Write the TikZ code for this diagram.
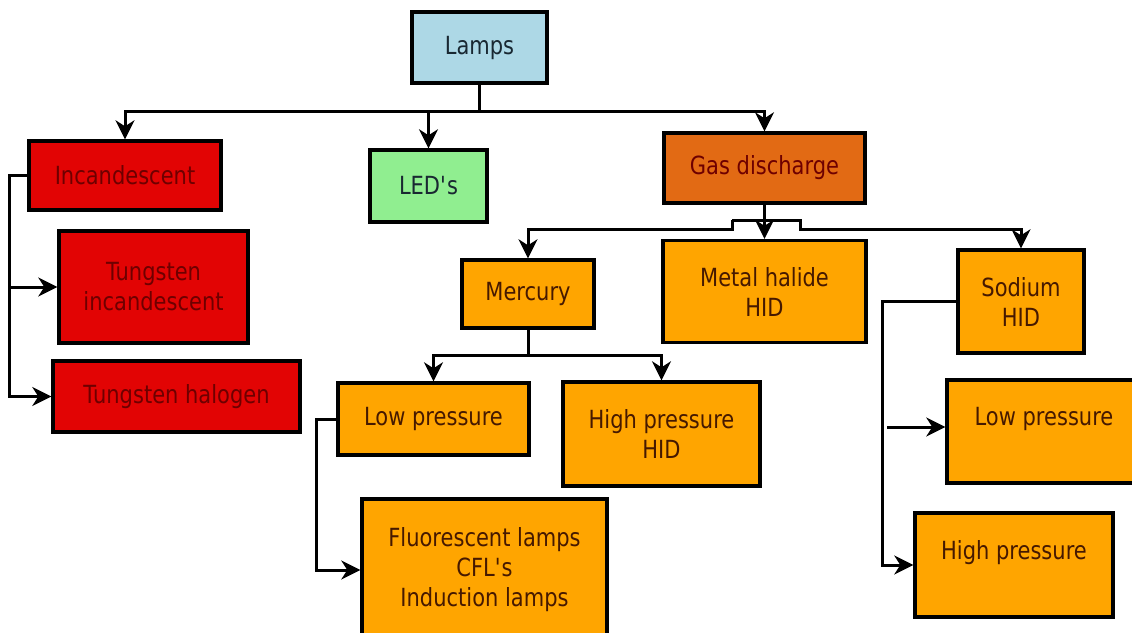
\documentclass[tikz,border=0pt]{standalone}
\usepackage{fontspec}
\setmainfont{DejaVu Sans}[FakeStretch=0.84]
\usepackage{tikz}
\usetikzlibrary{positioning,arrows.meta}
\definecolor{lampblue}{RGB}{173,216,230}
\definecolor{incred}{RGB}{226,4,4}
\definecolor{ledgreen}{RGB}{144,238,144}
\definecolor{gasorange}{RGB}{226,106,20}
\definecolor{hidorange}{RGB}{255,165,0}
\definecolor{darkred}{RGB}{110,0,0}
\definecolor{darkbrown}{RGB}{70,25,0}
\definecolor{darkslate}{RGB}{25,40,50}
\tikzset{
  lampbox/.style={draw,line width=1.7pt,align=center,inner sep=0pt,
            font=\fontsize{12.5}{15}\selectfont,text=darkbrown,fill=hidorange},
  topbox/.style={lampbox,fill=lampblue,text=darkslate},
  incbox/.style={lampbox,fill=incred,text=darkred},
  ledbox/.style={lampbox,fill=ledgreen,text=darkslate},
  gasbox/.style={lampbox,fill=gasorange,text=darkred},
  lifted/.style={text depth=15.5pt},
  feed/.style={line width=1.5pt},
  branch/.style={feed,-{Stealth[length=9.5pt,width=9.5pt,inset=3pt]}},
}

\begin{document}
\begin{tikzpicture}[x=0.5pt,y=-0.5pt]
  \useasboundingbox (0,0) rectangle (1132,633);
  % top level
  \node[topbox,minimum width=67.5pt,minimum height=35.5pt] (lamps) at (479.5,47.5) {Lamps};
  \node[incbox,minimum width=96pt,minimum height=34.5pt] (incand) at (125,175.5) {Incandescent};
  \node[ledbox,minimum width=58.5pt,minimum height=36pt] (led) at (428.5,186) {LED\textquotesingle s};
  \node[gasbox,minimum width=100.5pt,minimum height=35pt] (gas) at (764.5,168) {Gas discharge};
  % incandescent family
  \node[incbox,minimum width=94.5pt,minimum height=56pt] (tungi) at (153.5,287) {Tungsten\\incandescent};
  \node[incbox,minimum width=123.5pt,minimum height=35.5pt] (halo) at (176.5,396.5) {Tungsten halogen};
  % gas discharge family
  \node[lampbox,minimum width=66pt,minimum height=34pt] (mercury) at (528,294) {Mercury};
  \node[lampbox,minimum width=101.5pt,minimum height=51pt] (metal) at (764.5,291.5) {Metal halide\\HID};
  \node[lampbox,minimum width=63pt,minimum height=51.5pt] (sodium) at (1021,301.5) {Sodium\\HID};
  \node[lampbox,minimum width=95.5pt,minimum height=36pt] (hglow) at (433.5,419) {Low pressure};
  \node[lampbox,minimum width=98.5pt,minimum height=52pt] (hghigh) at (661.5,434) {High pressure\\HID};
  \node[lampbox,minimum width=122.5pt,minimum height=71pt] (fluor) at (484.5,570) {Fluorescent lamps\\CFL\textquotesingle s\\Induction lamps};
  \node[lampbox,lifted,minimum width=97pt,minimum height=51.5pt] (nalow) at (1044,431.5) {Low pressure};
  \node[lampbox,lifted,minimum width=99pt,minimum height=52pt] (nahigh) at (1014,565) {High pressure};

  % junctions
  \coordinate (lbus) at (479.5,111);
  \coordinate (inctrunk) at (9,175.5);
  \coordinate (jogl) at (732,220);
  \coordinate (jogr) at (800,220);
  \coordinate (hgbus) at (528,355);
  \coordinate (lowtrunk) at (316,419);
  \coordinate (natrunk) at (882,301.5);
  \coordinate (natap) at (887,427);

  \draw[feed] (lamps.south) -- (lbus);
  \draw[branch] (lbus) -| (incand.north);
  \draw[branch] (lbus) -| (gas.north);
  \draw[branch] (lbus -| led.north) -- (led.north);

  \draw[branch] (incand.west) -- (inctrunk) |- (halo.west);
  \draw[branch] (inctrunk |- tungi.west) -- (tungi.west);

  \draw[branch] (gas.south) -- (metal.north);
  \draw[branch] (jogl) -- ++(0,9) -| (mercury.north);
  \draw[branch] (jogl) -- (jogr) -- ++(0,9) -| (sodium.north);

  \draw[feed] (mercury.south) -- (hgbus);
  \draw[branch] (hgbus) -| (hglow.north);
  \draw[branch] (hgbus) -| (hghigh.north);
  \draw[branch] (hglow.west) -- (lowtrunk) |- (fluor.west);

  \draw[branch] (sodium.west) -- (natrunk) |- (nahigh.west);
  \draw[branch] (natap) -- (natap -| nalow.west);
\end{tikzpicture}
\end{document}
